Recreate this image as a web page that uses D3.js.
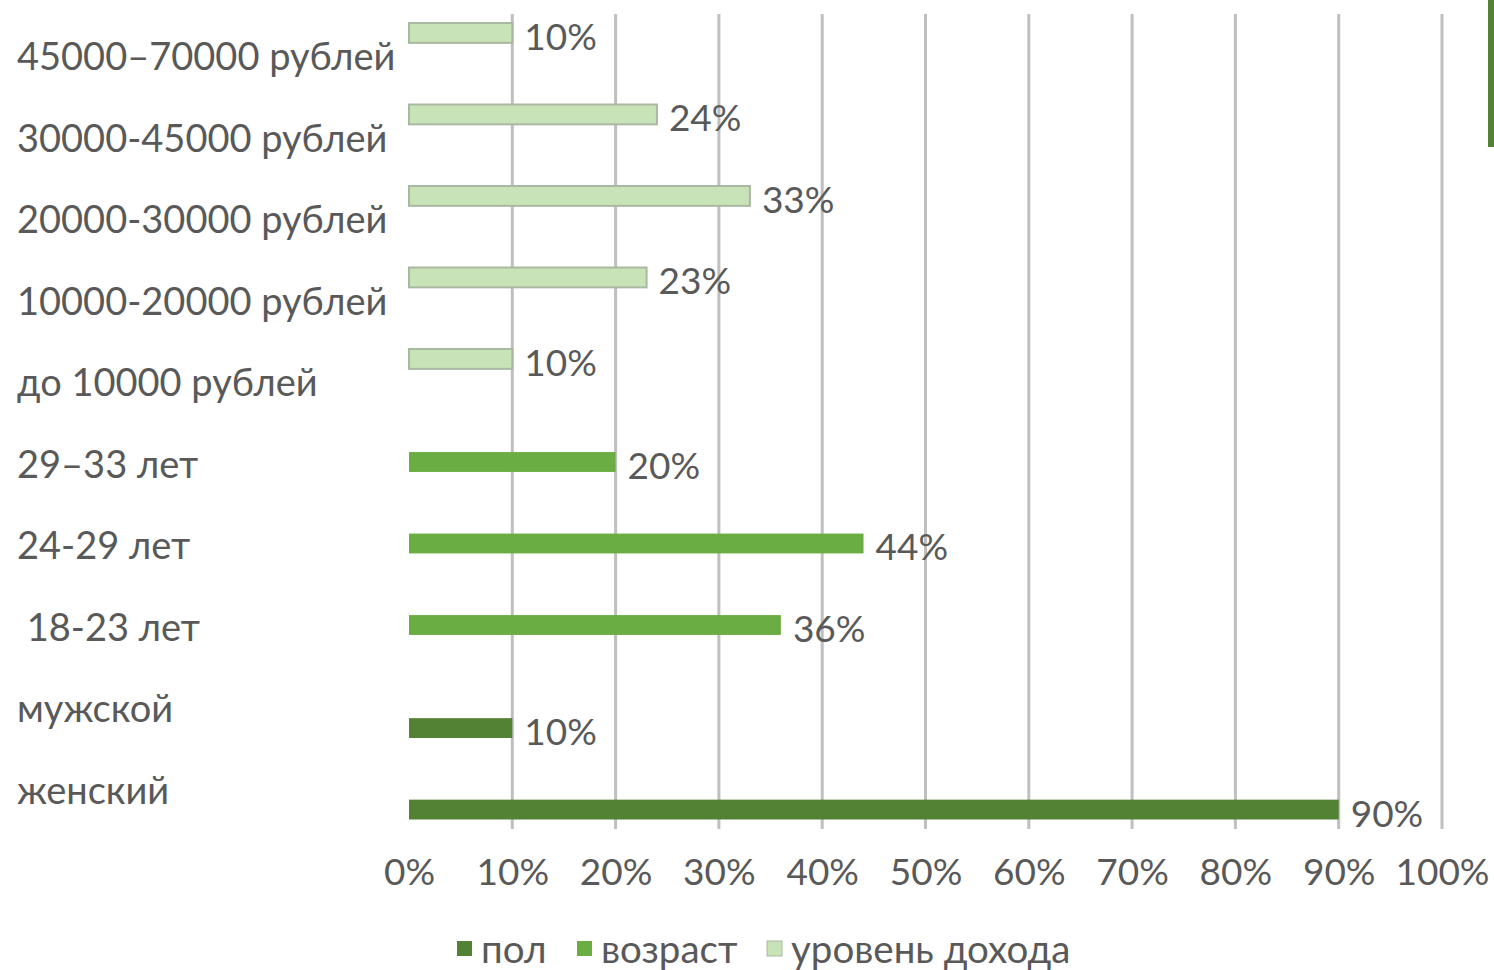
<!DOCTYPE html>
<meta charset="utf-8">
<style>
  body { margin: 0; background: #fff; }
  text { font-family: Lato, "Open Sans", sans-serif; fill: #595959; white-space: pre; }
</style>
<svg width="1494" height="970"></svg>
<script src="https://d3js.org/d3.v7.min.js"></script>
<script>
  // categories top to bottom, as they appear on the chart
  var categories = [
    "45000–70000 рублей",
    "30000-45000 рублей",
    "20000-30000 рублей",
    "10000-20000 рублей",
    "до 10000 рублей",
    "29–33 лет",
    "24-29 лет",
    " 18-23 лет",
    "мужской",
    "женский"
  ];

  var seriesNames = ["пол", "возраст", "уровень дохода"];

  // one value per category, null where the series has no bar
  var polValues = [null, null, null, null, null, null, null, null, 0.10, 0.90];
  var vozrastValues = [null, null, null, null, null, 0.20, 0.44, 0.36, null, null];
  var dohodValues = [0.10, 0.24, 0.33, 0.23, 0.10, null, null, null, null, null];

  var xTicks = [0, 0.1, 0.2, 0.3, 0.4, 0.5, 0.6, 0.7, 0.8, 0.9, 1];

  var colors = { "пол": "#548235", "возраст": "#6aad42", "уровень дохода": "#c9e3b8" };

  var svg = d3.select("svg");

  var x = d3.scaleLinear().domain([0, 1]).range([409, 1442]);
  var y = d3.scaleBand().domain(categories).range([14, 829]);
  // series stacked bottom-up inside each band, like Excel does
  var ySub = d3.scaleBand()
    .domain(["уровень дохода", "возраст", "пол"])
    .range([9, 72])
    .paddingInner(0.08);

  // gridlines
  svg.append("g")
    .selectAll("line")
    .data(xTicks.slice(1))
    .join("line")
    .attr("x1", function(d) { return x(d); })
    .attr("x2", function(d) { return x(d); })
    .attr("y1", 14)
    .attr("y2", 829)
    .attr("stroke", "#bfbfbf")
    .attr("stroke-width", 3);

  // x axis labels
  var xAxis = svg.append("g")
    .attr("transform", "translate(0,829)")
    .call(d3.axisBottom(x).tickValues(xTicks).tickFormat(d3.format(".0%")).tickSize(0).tickPadding(30));
  xAxis.select(".domain").remove();
  xAxis.selectAll("text")
    .attr("font-size", 37)
    .attr("font-family", null)
    .attr("fill", null);

  // category labels
  svg.append("g")
    .selectAll("text")
    .data(categories)
    .join("text")
    .attr("x", 17)
    .attr("y", function(d) { return y(d) + y.bandwidth() / 2 + 2; })
    .attr("dy", "0.35em")
    .attr("font-size", 38)
    .text(function(d) { return d; });

  var rows = [];
  [polValues, vozrastValues, dohodValues].forEach(function(vals, si) {
    vals.forEach(function(v, i) {
      if (v != null) rows.push({ series: seriesNames[si], cat: categories[i], value: v });
    });
  });

  // bars
  svg.append("g")
    .selectAll("rect")
    .data(rows)
    .join("rect")
    .attr("x", x(0))
    .attr("y", function(d) { return y(d.cat) + ySub(d.series); })
    .attr("width", function(d) { return x(d.value) - x(0); })
    .attr("height", ySub.bandwidth())
    .attr("fill", function(d) { return colors[d.series]; })
    .attr("stroke", function(d) { return d.series === "уровень дохода" ? "#a9b8a0" : "none"; })
    .attr("stroke-width", 2);

  // data labels
  svg.append("g")
    .selectAll("text")
    .data(rows)
    .join("text")
    .attr("x", function(d) { return x(d.value) + 12; })
    .attr("y", function(d) { return y(d.cat) + ySub(d.series) + ySub.bandwidth() / 2 + 4; })
    .attr("dy", "0.35em")
    .attr("font-size", 37)
    .text(function(d) { return d3.format(".0%")(d.value); });

  // legend
  var legendX = [457, 577, 767];
  var legend = svg.append("g")
    .selectAll("g")
    .data(seriesNames)
    .join("g")
    .attr("transform", function(d, i) { return "translate(" + legendX[i] + ",950)"; });
  legend.append("rect")
    .attr("y", -9)
    .attr("width", 15)
    .attr("height", 15)
    .attr("fill", function(d) { return colors[d]; })
    .attr("stroke", function(d) { return d === "уровень дохода" ? "#a9b8a0" : "none"; })
    .attr("stroke-width", 1);
  legend.append("text")
    .attr("x", 24)
    .attr("dy", "0.35em")
    .attr("font-size", 38.5)
    .text(function(d) { return d; });

  // green edge line from the slide
  svg.append("rect")
    .attr("x", 1488)
    .attr("y", 0)
    .attr("width", 6)
    .attr("height", 147)
    .attr("fill", "#548235");
</script>
